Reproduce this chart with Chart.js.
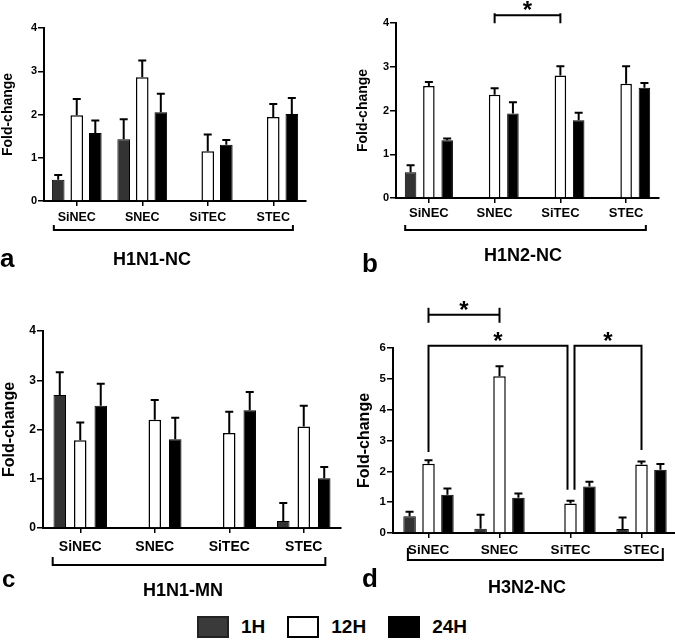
<!DOCTYPE html>
<html lang="en">
<head>
<meta charset="UTF-8">
<title>Fold-change</title>
<script src="https://cdn.jsdelivr.net/npm/chart.js"></script>
<style>
  body { margin: 0; background: #fff; font-family: "Liberation Sans", Arial, sans-serif; }
  #wrap { position: relative; width: 675px; height: 640px; overflow: hidden; }
  canvas { position: absolute; }
  .title { position: absolute; font-weight: bold; font-size: 18px; line-height: 1; transform: translate(-50%, -50%); white-space: nowrap; }
  .letter { position: absolute; font-weight: bold; line-height: 1; }
  .legend { position: absolute; top: 617px; left: 197px; height: 20px; display: flex; align-items: center; }
  .legend .box { width: 28px; height: 18px; border: 2px solid #000; box-sizing: content-box; }
  .legend span { font-weight: bold; font-size: 19px; margin: 0 22px 0 12px; }
</style>
</head>
<body>
<div id="wrap">
  <canvas id="chartA" width="320" height="250" style="left:0;top:0"></canvas>
  <canvas id="chartB" width="330" height="250" style="left:345px;top:0"></canvas>
  <canvas id="chartC" width="345" height="290" style="left:0;top:300px"></canvas>
  <canvas id="chartD" width="335" height="300" style="left:345px;top:290px"></canvas>

  <div class="title" style="left:152px;top:259px">H1N1-NC</div>
  <div class="title" style="left:523px;top:255px">H1N2-NC</div>
  <div class="title" style="left:183px;top:590px">H1N1-MN</div>
  <div class="title" style="left:527px;top:587px">H3N2-NC</div>

  <div class="letter" style="left:0;top:245px;font-size:26px">a</div>
  <div class="letter" style="left:362px;top:250px;font-size:26px">b</div>
  <div class="letter" style="left:2px;top:567px;font-size:24px">c</div>
  <div class="letter" style="left:362px;top:565px;font-size:26px">d</div>

  <div class="legend">
    <div class="box" style="background:#3a3a3a;border-color:#222"></div><span>1H</span>
    <div class="box" style="background:#fff"></div><span>12H</span>
    <div class="box" style="background:#000"></div><span>24H</span>
  </div>
</div>

<script>
// categories and series
const categories = ['SiNEC', 'SNEC', 'SiTEC', 'STEC'];
const seriesNames = ['1H', '12H', '24H'];
const seriesFill = ['#333333', '#ffffff', '#000000'];

// a: H1N1-NC (mean, SEM)
const a1H = [0.49, 1.43, null, null];
const a1HErr = [0.11, 0.46, null, null];
const a12H = [1.98, 2.86, 1.15, 1.94];
const a12HErr = [0.38, 0.39, 0.39, 0.30];
const a24H = [1.57, 2.05, 1.30, 2.01];
const a24HErr = [0.29, 0.43, 0.11, 0.37];

// b: H1N2-NC
const b1H = [0.59, null, null, null];
const b1HErr = [0.16, null, null, null];
const b12H = [2.56, 2.36, 2.80, 2.61];
const b12HErr = [0.09, 0.15, 0.21, 0.40];
const b24H = [1.32, 1.93, 1.78, 2.52];
const b24HErr = [0.04, 0.26, 0.17, 0.11];

// c: H1N1-MN
const c1H = [2.70, null, null, 0.14];
const c1HErr = [0.46, null, null, 0.37];
const c12H = [1.78, 2.20, 1.93, 2.06];
const c12HErr = [0.36, 0.40, 0.43, 0.42];
const c24H = [2.48, 1.80, 2.39, 1.01];
const c24HErr = [0.45, 0.44, 0.37, 0.23];

// d: H3N2-NC
const d1H = [0.54, 0.14, null, 0.13];
const d1HErr = [0.15, 0.45, null, 0.37];
const d12H = [2.25, 5.08, 0.96, 2.22];
const d12HErr = [0.11, 0.33, 0.09, 0.10];
const d24H = [1.24, 1.14, 1.51, 2.05];
const d24HErr = [0.20, 0.14, 0.15, 0.19];

// y axis ranges
const yMaxABC = 4;
const yMaxD = 6;

// significance brackets (category index, level in axis units)
const sigB = [{ from: 1, to: 2, y: 4.18, capUp: 2, capDown: 8 }];
const sigD = [
  { from: 0, to: 1, y: 7.08, capUp: 7, capDown: 8 },
  { from: 0, to: 2, y: 6.07, endFrom: 2.63, endTo: 1.40, dxTo: -3 },
  { from: 2, to: 3, y: 6.07, endFrom: 1.40, endTo: 2.69, dxFrom: 4 }
];

Chart.defaults.font.family = "'Liberation Sans', Arial, sans-serif";
Chart.defaults.font.weight = 'bold';
Chart.defaults.color = '#000';

// upward-only error bars with a cap
const errorBars = {
  id: 'errorBars',
  afterDatasetsDraw(chart) {
    const ctx = chart.ctx;
    const y = chart.scales.y;
    chart.data.datasets.forEach((ds, i) => {
      const meta = chart.getDatasetMeta(i);
      meta.data.forEach((bar, j) => {
        if (ds.data[j] == null || ds.errors[j] == null) return;
        const yTop = y.getPixelForValue(ds.data[j] + ds.errors[j]);
        ctx.save();
        ctx.strokeStyle = '#000';
        ctx.lineWidth = 2;
        ctx.beginPath();
        ctx.moveTo(bar.x, bar.y);
        ctx.lineTo(bar.x, yTop);
        ctx.moveTo(bar.x - 4, yTop);
        ctx.lineTo(bar.x + 4, yTop);
        ctx.stroke();
        ctx.restore();
      });
    });
  }
};

// group bracket under the categories + significance brackets
const brackets = {
  id: 'brackets',
  afterDraw(chart) {
    const o = chart.options.plugins.brackets;
    const ctx = chart.ctx;
    const x = chart.scales.x, y = chart.scales.y;
    const step = x.getPixelForValue(1) - x.getPixelForValue(0);
    ctx.save();
    ctx.strokeStyle = '#000';
    ctx.lineWidth = 2;

    const gy = chart.chartArea.bottom + o.gap;
    const gl = x.getPixelForValue(0) - o.padL * step;
    const gr = x.getPixelForValue(categories.length - 1) + o.padR * step;
    ctx.beginPath();
    ctx.moveTo(gl, gy - o.rise);
    ctx.lineTo(gl, gy);
    ctx.lineTo(gr, gy);
    ctx.lineTo(gr, gy - o.rise);
    ctx.stroke();

    ctx.fillStyle = '#000';
    ctx.font = "bold 24px 'Liberation Sans', Arial, sans-serif";
    ctx.textAlign = 'center';
    ctx.textBaseline = 'alphabetic';
    (o.sig || []).forEach(s => {
      const x1 = x.getPixelForValue(s.from) + (s.dxFrom || 0);
      const x2 = x.getPixelForValue(s.to) + (s.dxTo || 0);
      const yy = y.getPixelForValue(s.y);
      ctx.beginPath();
      if (s.endFrom != null) {
        ctx.moveTo(x1, y.getPixelForValue(s.endFrom));
        ctx.lineTo(x1, yy);
        ctx.lineTo(x2, yy);
        ctx.lineTo(x2, y.getPixelForValue(s.endTo));
      } else {
        ctx.moveTo(x1, yy);
        ctx.lineTo(x2, yy);
        ctx.moveTo(x1, yy - s.capUp);
        ctx.lineTo(x1, yy + s.capDown);
        ctx.moveTo(x2, yy - s.capUp);
        ctx.lineTo(x2, yy + s.capDown);
      }
      ctx.stroke();
      ctx.fillText('*', (x1 + x2) / 2, yy + 3);
    });
    ctx.restore();
  }
};

function makePanel(id, p) {
  const values = [p.v1, p.v12, p.v24];
  const errs = [p.e1, p.e12, p.e24];
  const datasets = seriesNames.map((name, i) => ({
    label: name,
    data: values[i],
    errors: errs[i],
    backgroundColor: seriesFill[i],
    borderColor: '#000',
    borderWidth: i === 1 ? 1.5 : 1,
    categoryPercentage: p.catPct,
    barPercentage: p.barPct
  }));

  return new Chart(document.getElementById(id), {
    type: 'bar',
    data: { labels: categories, datasets: datasets },
    options: {
      responsive: false,
      animation: false,
      layout: { padding: { left: p.padLeft, right: p.padRight, top: p.padTop, bottom: 0 } },
      plugins: {
        legend: { display: false },
        tooltip: { enabled: false },
        brackets: p.bracket
      },
      scales: {
        x: {
          grid: { offset: false, drawOnChartArea: false, tickLength: 5, color: '#000', lineWidth: 1.5 },
          border: { color: '#000', width: 2 },
          ticks: { font: { size: p.catFont, weight: 'bold' }, padding: p.tickPad, maxRotation: 0, autoSkip: false },
          afterFit: s => { s.height = p.xHeight; }
        },
        y: {
          min: 0,
          max: p.yMax,
          grid: { drawOnChartArea: false, tickLength: 6, color: '#000', lineWidth: 1.5 },
          border: { color: '#000', width: 2 },
          ticks: { stepSize: 1, font: { size: p.yFont, weight: 'bold' }, padding: 1 },
          title: { display: true, text: 'Fold-change', font: { size: p.titleFont, weight: 'bold' }, padding: 0 },
          afterFit: s => { s.width = p.yWidth; }
        }
      }
    },
    plugins: [errorBars, brackets]
  });
}

makePanel('chartA', {
  v1: a1H, v12: a12H, v24: a24H, e1: a1HErr, e12: a12HErr, e24: a24HErr,
  yMax: yMaxABC, padLeft: 0, padRight: 14, padTop: 28, yWidth: 44, xHeight: 49,
  catPct: 0.85, barPct: 0.68, catFont: 12.5, yFont: 11, titleFont: 14, tickPad: 4,
  bracket: { gap: 29, rise: 5, padL: 0.35, padR: 0.30 }
});

makePanel('chartB', {
  v1: b1H, v12: b12H, v24: b24H, e1: b1HErr, e12: b12HErr, e24: b24HErr,
  yMax: yMaxABC, padLeft: 10, padRight: 16, padTop: 23, yWidth: 41, xHeight: 52,
  catPct: 0.835, barPct: 0.63, catFont: 13, yFont: 11, titleFont: 14, tickPad: 3,
  bracket: { gap: 32, rise: 5, padL: 0.36, padR: 0.30, sig: sigB }
});

makePanel('chartC', {
  v1: c1H, v12: c12H, v24: c24H, e1: c1HErr, e12: c12HErr, e24: c24HErr,
  yMax: yMaxABC, padLeft: 0, padRight: 4, padTop: 31, yWidth: 43, xHeight: 62,
  catPct: 0.825, barPct: 0.61, catFont: 14, yFont: 12, titleFont: 16, tickPad: 6,
  bracket: { gap: 37, rise: 8, padL: 0.37, padR: 0.29 }
});

makePanel('chartD', {
  v1: d1H, v12: d12H, v24: d24H, e1: d1HErr, e12: d12HErr, e24: d24HErr,
  yMax: yMaxD, padLeft: 10, padRight: 3, padTop: 58, yWidth: 38, xHeight: 57,
  catPct: 0.80, barPct: 0.66, catFont: 13.5, yFont: 11.5, titleFont: 16, tickPad: 4,
  bracket: { gap: 27, rise: 12, padL: 0.29, padR: 0.30, sig: sigD }
});
</script>
</body>
</html>
